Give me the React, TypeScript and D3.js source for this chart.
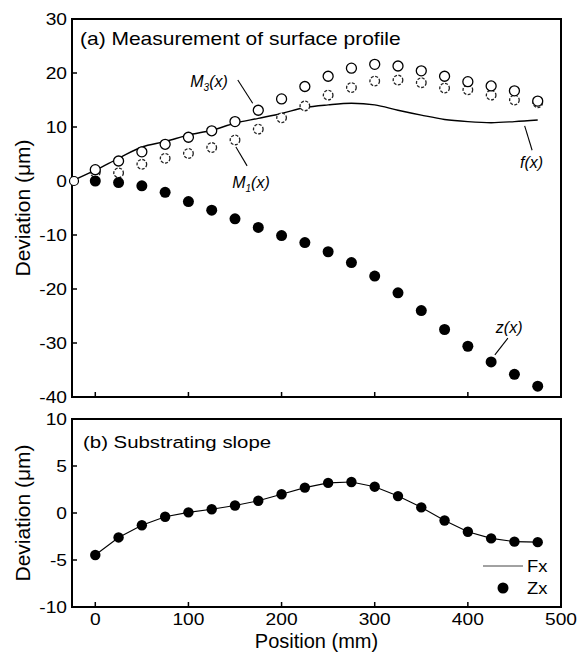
import React from 'react';
import * as d3 from 'd3';

// positions along the plate (mm)
const positions = [0, 25, 50, 75, 100, 125, 150, 175, 200, 225, 250, 275, 300, 325, 350, 375, 400, 425, 450, 475];

// (a) measurement of surface profile
const m3Values = [2.1, 3.7, 5.4, 6.8, 8.1, 9.3, 11.0, 13.1, 15.2, 17.5, 19.4, 20.9, 21.6, 21.3, 20.4, 19.4, 18.4, 17.6, 16.7, 14.8];
const m1Values = [1.6, 1.5, 3.1, 4.2, 5.1, 6.2, 7.6, 9.6, 11.7, 13.9, 15.9, 17.3, 18.5, 18.7, 18.2, 17.2, 16.9, 15.9, 15.0, 14.5];
const zValues = [0, -0.3, -0.9, -2.1, -3.8, -5.4, -7.0, -8.6, -10.1, -11.4, -13.1, -15.1, -17.6, -20.7, -24.0, -27.5, -30.6, -33.5, -35.8, -38.0];
const fxPos = [-25, 0, 25, 50, 75, 100, 125, 150, 175, 200, 225, 250, 275, 300, 325, 350, 375, 400, 425, 450, 475];
const fxValues = [0, 2.0, 4.2, 6.3, 7.3, 8.5, 9.4, 10.7, 11.6, 12.5, 13.6, 14.1, 14.4, 14.1, 13.1, 12.2, 11.4, 11.0, 10.8, 11.0, 11.3];

// (b) substrating slope
const slopeValues = [-4.47, -2.6, -1.3, -0.4, 0.07, 0.4, 0.8, 1.3, 2.0, 2.7, 3.2, 3.3, 2.8, 1.8, 0.6, -0.8, -2.0, -2.7, -3.05, -3.1];

const topTicks = [30, 20, 10, 0, -10, -20, -30, -40];
const botTicks = [10, 5, 0, -5, -10];
const xTicks = [0, 100, 200, 300, 400, 500];

const FONT = 'Liberation Sans, Arial, Helvetica, sans-serif';

const x = d3.scaleLinear().domain([-25, 500]).range([72, 561]);
const yTop = d3.scaleLinear().domain([-40, 30]).range([397, 19]);
const yBot = d3.scaleLinear().domain([-10, 10]).range([607, 419]);

function SText({ x, y, size, sx = 1.15, anchor = 'start', italic = false, children }: any) {
  return (
    <text
      transform={`translate(${x},${y}) scale(${sx},1)`}
      fontSize={size}
      fontFamily={FONT}
      fontStyle={italic ? 'italic' : 'normal'}
      textAnchor={anchor}
      fill="#000"
    >
      {children}
    </text>
  );
}

export default function App() {
  const fLine = d3
    .line<number>()
    .x((_, i) => x(fxPos[i]))
    .y((d) => yTop(d))
    .curve(d3.curveCatmullRom.alpha(0.5));

  const slopeLine = d3
    .line<number>()
    .x((_, i) => x(positions[i]))
    .y((d) => yBot(d));

  const leaders = [
    { from: [153, 18.7], to: [169, 14.4] },
    { from: [151, 6.3], to: [163, 2.8] },
    { from: [461, 10.2], to: [469, 5.7] },
    { from: [443, -29.1], to: [429, -32.2] },
  ];

  return (
    <svg
      width={583}
      height={653}
      style={{ position: 'absolute', left: 0, top: 0, background: '#fff' }}
    >
      {/* ---- panel (a) ---- */}
      <rect x={x(-25)} y={yTop(30)} width={x(500) - x(-25)} height={yTop(-40) - yTop(30)} fill="none" stroke="#000" strokeWidth={2} />
      {topTicks.map((t) => (
        <g key={'ty' + t}>
          <line x1={x(-25)} x2={x(-25) + 5} y1={yTop(t)} y2={yTop(t)} stroke="#000" strokeWidth={1.5} />
          <SText x={67} y={yTop(t) + 6} size={16} sx={1.2} anchor="end">{t}</SText>
        </g>
      ))}
      {xTicks.slice(0, 5).map((t) => (
        <line key={'tx' + t} x1={x(t)} x2={x(t)} y1={yTop(-40)} y2={yTop(-40) - 5} stroke="#000" strokeWidth={1.5} />
      ))}
      <text transform={`translate(30,${yTop(-5)}) rotate(-90)`} fontSize={21} fontFamily={FONT} textAnchor="middle">
        Deviation (μm)
      </text>
      <SText x={80} y={45} size={17.5} sx={1.2}>(a) Measurement of surface profile</SText>

      <path d={fLine(fxValues) || ''} fill="none" stroke="#000" strokeWidth={1.4} />
      {m1Values.map((v, i) => (
        <circle key={'m1' + i} cx={x(positions[i])} cy={yTop(v)} r={4.8} fill="#fff" stroke="#222" strokeWidth={1.3} strokeDasharray="3,1.5" />
      ))}
      {m3Values.map((v, i) => (
        <circle key={'m3' + i} cx={x(positions[i])} cy={yTop(v)} r={5} fill="#fff" stroke="#000" strokeWidth={1.3} />
      ))}
      <circle cx={x(-25) + 2} cy={yTop(0)} r={4.5} fill="#fff" stroke="#000" strokeWidth={1.2} />
      {zValues.map((v, i) => (
        <circle key={'z' + i} cx={x(positions[i])} cy={yTop(v)} r={5.5} fill="#000" />
      ))}

      {leaders.map((l, i) => (
        <line key={'ld' + i} x1={x(l.from[0])} y1={yTop(l.from[1])} x2={x(l.to[0])} y2={yTop(l.to[1])} stroke="#000" strokeWidth={1.1} />
      ))}
      <text x={x(102)} y={yTop(17.4)} fontSize={16} fontFamily={FONT} fontStyle="italic">
        M<tspan fontSize={10} dy={4}>3</tspan><tspan dy={-4}>(x)</tspan>
      </text>
      <text x={x(147)} y={yTop(-1.3)} fontSize={16} fontFamily={FONT} fontStyle="italic">
        M<tspan fontSize={10} dy={4}>1</tspan><tspan dy={-4}>(x)</tspan>
      </text>
      <text x={x(456)} y={yTop(2.4)} fontSize={16} fontFamily={FONT} fontStyle="italic">f(x)</text>
      <text x={x(430)} y={yTop(-28.2)} fontSize={16} fontFamily={FONT} fontStyle="italic">z(x)</text>

      {/* ---- panel (b) ---- */}
      <rect x={x(-25)} y={yBot(10)} width={x(500) - x(-25)} height={yBot(-10) - yBot(10)} fill="none" stroke="#000" strokeWidth={2} />
      {botTicks.map((t) => (
        <g key={'by' + t}>
          <line x1={x(-25)} x2={x(-25) + 5} y1={yBot(t)} y2={yBot(t)} stroke="#000" strokeWidth={1.5} />
          <SText x={67} y={yBot(t) + 6} size={16} sx={1.2} anchor="end">{t}</SText>
        </g>
      ))}
      {xTicks.map((t) => (
        <g key={'bx' + t}>
          <line x1={x(t)} x2={x(t)} y1={yBot(-10)} y2={yBot(-10) - 5} stroke="#000" strokeWidth={1.5} />
          <SText x={x(t)} y={625} size={16} sx={1.2} anchor="middle">{t}</SText>
        </g>
      ))}
      <text transform={`translate(30,${yBot(0)}) rotate(-90)`} fontSize={21} fontFamily={FONT} textAnchor="middle">
        Deviation (μm)
      </text>
      <text x={(x(-25) + x(500)) / 2} y={648} fontSize={20} fontFamily={FONT} textAnchor="middle">
        Position (mm)
      </text>
      <SText x={83} y={448} size={17} sx={1.2}>(b) Substrating slope</SText>

      <path d={slopeLine(slopeValues) || ''} fill="none" stroke="#000" strokeWidth={1.1} />
      {slopeValues.map((v, i) => (
        <circle key={'s' + i} cx={x(positions[i])} cy={yBot(v)} r={5.2} fill="#000" />
      ))}

      {/* legend */}
      <line x1={483} x2={523} y1={566} y2={566} stroke="#444" strokeWidth={1} />
      <SText x={527} y={572} size={16}>Fx</SText>
      <circle cx={503} cy={588} r={5.5} fill="#000" />
      <SText x={527} y={594} size={16}>Zx</SText>
    </svg>
  );
}
